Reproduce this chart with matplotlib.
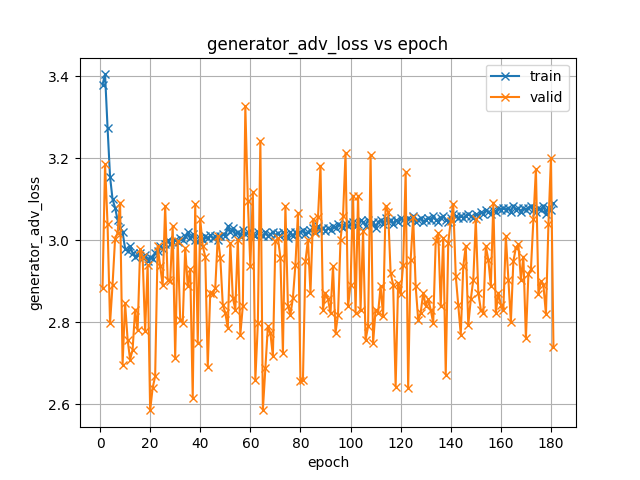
import matplotlib
matplotlib.use("Agg")
import matplotlib.pyplot as plt
from matplotlib.ticker import MultipleLocator

train = [
    3.38, 3.405, 3.275, 3.155, 3.10, 3.08, 3.05, 3.03, 3.02, 2.98,
    2.975, 2.985, 2.97, 2.96, 2.965, 2.97, 2.958, 2.965, 2.95, 2.96,
    2.955, 2.97, 2.975, 2.985, 2.98, 2.99, 3.00, 2.99, 2.995, 3.00,
    2.995, 3.005, 3.00, 3.01, 3.02, 3.005, 3.015, 3.00, 2.995, 3.005,
    3.00, 3.01, 3.005, 3.012, 3.005, 3.01, 3.00, 3.01, 3.015, 3.01,
    3.035, 3.02, 3.03, 3.015, 3.02, 3.01, 3.025, 3.015, 3.02, 3.01,
    3.015, 3.01, 3.02, 3.015, 3.01, 3.02, 3.01, 3.015, 3.02, 3.012,
    3.018, 3.01, 3.02, 3.015, 3.005, 3.02, 3.01, 3.02, 3.015, 3.02,
    3.025, 3.015, 3.02, 3.025, 3.03, 3.02, 3.035, 3.025, 3.03, 3.022,
    3.03, 3.025, 3.035, 3.03, 3.04, 3.035, 3.03, 3.04, 3.035, 3.04,
    3.045, 3.035, 3.04, 3.05, 3.045, 3.035, 3.05, 3.04, 3.045, 3.03,
    3.045, 3.05, 3.04, 3.055, 3.045, 3.05, 3.04, 3.05, 3.045, 3.055,
    3.05, 3.045, 3.055, 3.05, 3.06, 3.045, 3.05, 3.055, 3.045, 3.05,
    3.055, 3.05, 3.06, 3.05, 3.045, 3.055, 3.06, 3.05, 3.045, 3.055,
    3.065, 3.06, 3.055, 3.06, 3.055, 3.06, 3.065, 3.06, 3.055, 3.065,
    3.06, 3.07, 3.065, 3.075, 3.07, 3.065, 3.075, 3.07, 3.08, 3.075,
    3.08, 3.075, 3.08, 3.07, 3.085, 3.075, 3.08, 3.07, 3.08, 3.075,
    3.08, 3.085, 3.075, 3.07, 3.08, 3.075, 3.085, 3.065, 3.08, 3.075, 3.09,
]

valid = [
    2.884, 3.186, 3.039, 2.798, 2.892, 3.004, 3.018, 3.092, 2.697, 2.847,
    2.758, 2.709, 2.733, 2.831, 2.78, 2.978, 2.96, 2.778, 2.941, 2.585,
    2.64, 2.668, 2.986, 2.937, 2.89, 3.084, 2.904, 2.90, 3.035, 2.713,
    2.998, 2.806, 2.798, 2.982, 2.888, 2.929, 2.615, 3.088, 2.749, 3.051,
    2.986, 2.96, 2.692, 2.872, 2.87, 2.884, 3.01, 2.958, 2.843, 2.823,
    2.786, 2.994, 2.86, 2.831, 3.002, 2.77, 2.84, 3.327, 3.096, 2.937,
    3.117, 2.66, 2.798, 3.243, 2.586, 2.688, 2.79, 2.774, 2.717, 2.998,
    3.006, 2.958, 2.725, 3.084, 2.839, 2.819, 2.86, 2.941, 3.067, 2.657,
    2.66, 2.949, 3.002, 2.872, 3.051, 3.018, 3.056, 3.182, 2.831, 2.872,
    2.856, 2.823, 2.937, 2.774, 2.819, 3.002, 3.06, 3.213, 2.839, 2.892,
    3.109, 2.823, 3.109, 2.831, 3.023, 2.757, 2.79, 3.208, 2.749, 2.831,
    2.823, 2.888, 2.815, 3.084, 3.07, 2.92, 2.892, 2.643, 2.896, 2.868,
    2.941, 3.167, 2.639, 2.953, 3.056, 2.888, 2.806, 2.823, 2.872, 2.84,
    2.856, 2.831, 2.798, 2.998, 3.018, 2.839, 3.006, 2.672, 2.994, 3.047,
    3.088, 2.913, 2.843, 2.77, 2.937, 2.986, 2.794, 2.856, 2.904, 3.051,
    2.872, 2.831, 2.823, 2.986, 2.953, 2.888, 3.092, 2.823, 2.872, 2.843,
    2.831, 3.01, 2.904, 2.8, 2.949, 2.982, 2.99, 2.904, 2.96, 2.761,
    2.917, 2.929, 3.051, 3.174, 2.87, 2.90, 2.89, 2.82, 3.04, 3.20, 2.74,
]

epochs = list(range(1, len(train) + 1))
epochs_v = list(range(1, len(valid) + 1))

fig, ax = plt.subplots(figsize=(6.4, 4.8), dpi=100)
ax.plot(epochs, train, marker="x", label="train")
ax.plot(epochs_v, valid, marker="x", label="valid")
ax.set_title("generator_adv_loss vs epoch")
ax.set_xlabel("epoch")
ax.set_ylabel("generator_adv_loss")
ax.xaxis.set_major_locator(MultipleLocator(20))
ax.grid(True)
ax.legend(loc="upper right")
fig.savefig("out.png", dpi=100)
